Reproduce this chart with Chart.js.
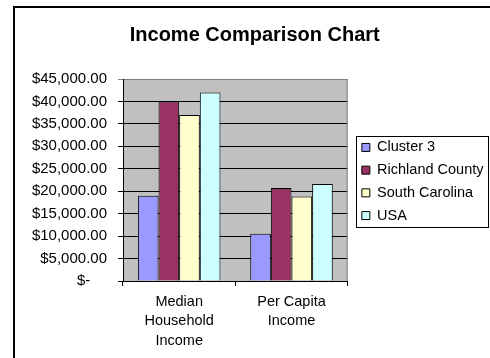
<!DOCTYPE html>
<html>
<head>
<meta charset="utf-8">
<script src="https://cdn.jsdelivr.net/npm/chart.js@4.4.1/dist/chart.umd.min.js"></script>
<style>
    body { margin: 0; background: #fff; }
    #wrap { position: relative; width: 490px; height: 358px; overflow: hidden; }
    #frame { position: absolute; left: 13px; top: 6px; width: 600px; height: 600px;
             border-left: 2px solid #000; border-top: 2px solid #000; }
    #income-chart { position: absolute; left: 0; top: 0; }
</style>
</head>
<body>
<div id="wrap">
    <div id="frame"></div>
    <canvas id="income-chart" width="490" height="358"></canvas>
</div>
<script>
const categories = [['Median', 'Household', 'Income'], ['Per Capita', 'Income']];
const seriesNames = ['Cluster 3', 'Richland County', 'South Carolina', 'USA'];
const cluster3 = [19000, 10500];
const richlandCounty = [40000, 20700];
const southCarolina = [37000, 18800];
const usa = [42000, 21600];
const yMin = 0;
const yMax = 45000;
const yStep = 5000;

const seriesColors = ['#9999FF', '#993366', '#FFFFCC', '#CCFFFF'];
const seriesValues = [cluster3, richlandCounty, southCarolina, usa];

function formatDollars(value) {
    if (value === 0) return '$-    ';
    return '$' + value.toLocaleString('en-US', { minimumFractionDigits: 2, maximumFractionDigits: 2 });
}

// grey plot background, grey right edge, box round the legend
const plotDecor = {
    id: 'plotDecor',
    beforeDraw(chart) {
        const { ctx, chartArea } = chart;
        ctx.save();
        ctx.fillStyle = '#C0C0C0';
        ctx.fillRect(chartArea.left, chartArea.top, chartArea.right - chartArea.left, chartArea.bottom - chartArea.top);
        ctx.restore();
    },
    afterDraw(chart) {
        const { ctx, chartArea } = chart;
        ctx.save();
        ctx.strokeStyle = '#808080';
        ctx.lineWidth = 1;
        ctx.beginPath();
        ctx.moveTo(chartArea.right - 0.5, chartArea.top);
        ctx.lineTo(chartArea.right - 0.5, chartArea.bottom);
        ctx.stroke();

        const boxes = chart.legend.legendHitBoxes;
        const left = Math.min(...boxes.map(b => b.left)) - 6;
        const top = Math.min(...boxes.map(b => b.top)) - 4;
        const right = Math.max(...boxes.map(b => b.left + b.width)) + 4;
        const bottom = Math.max(...boxes.map(b => b.top + b.height)) + 4;
        ctx.strokeStyle = '#000';
        ctx.strokeRect(Math.round(left) + 0.5, Math.round(top) + 0.5, Math.round(right - left), Math.round(bottom - top));
        ctx.restore();
    }
};

Chart.defaults.font.family = "'Liberation Sans', Arial, sans-serif";
Chart.defaults.color = '#000';

const ctx = document.getElementById('income-chart').getContext('2d');
new Chart(ctx, {
    type: 'bar',
    data: {
        labels: categories,
        datasets: seriesNames.map((name, i) => ({
            label: name,
            data: seriesValues[i],
            backgroundColor: seriesColors[i],
            borderColor: '#000',
            borderWidth: 1,
            borderSkipped: 'start',
            categoryPercentage: 0.735,
            barPercentage: 1.0
        }))
    },
    options: {
        responsive: false,
        animation: false,
        layout: { padding: { left: 16, right: -3.5, top: 0, bottom: 0 } },
        plugins: {
            title: {
                display: true,
                text: 'Income Comparison Chart',
                color: '#000',
                font: { size: 20, weight: 'bold' },
                padding: { top: 23, bottom: 32 }
            },
            legend: {
                position: 'right',
                maxWidth: 200,
                title: {
                    // empty spacer that nudges the legend items down a little
                    display: true,
                    text: ' ',
                    padding: 0,
                    font: { size: 4, lineHeight: 1.25 }
                },
                labels: {
                    boxWidth: 8,
                    boxHeight: 8,
                    padding: 8.2,
                    color: '#000',
                    font: { size: 14.5 }
                }
            },
            tooltip: { enabled: false }
        },
        scales: {
            x: {
                grid: {
                    display: true,
                    drawOnChartArea: false,
                    tickLength: 5,
                    color: '#000'
                },
                border: { display: true, color: '#000', width: 1 },
                ticks: {
                    padding: 6,
                    maxRotation: 0,
                    font: { size: 14.5, lineHeight: 1.34 }
                },
                afterFit: scale => { scale.height = 77; }
            },
            y: {
                min: yMin,
                max: yMax,
                grid: {
                    tickLength: 5,
                    color: c => (c.tick && c.tick.value === yMax ? '#808080' : '#000')
                },
                border: { display: true, color: '#000', width: 1 },
                ticks: {
                    stepSize: yStep,
                    padding: 11,
                    font: { size: 15 },
                    callback: value => formatDollars(value)
                },
                afterFit: scale => { scale.width = 107; }
            },
            gap: {
                type: 'linear',
                position: 'right',
                display: true,
                grid: { display: false },
                border: { display: false },
                ticks: { display: false },
                afterFit: scale => { scale.width = 6; }
            }
        }
    },
    plugins: [plotDecor]
});
</script>
</body>
</html>
